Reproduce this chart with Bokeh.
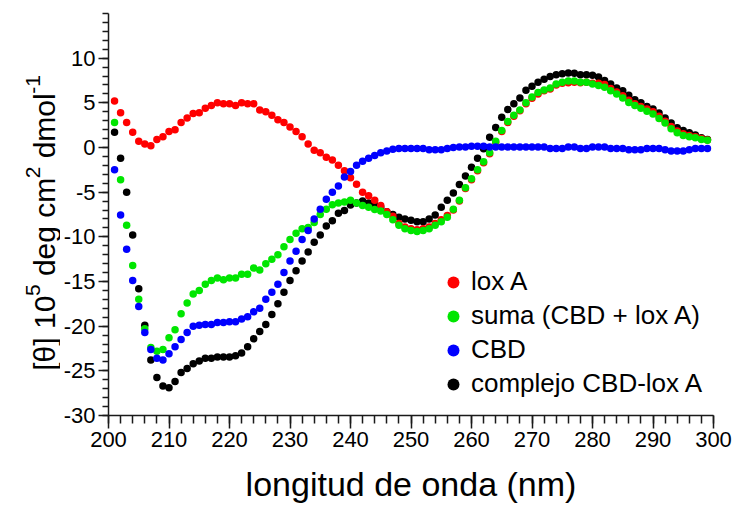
import math

from bokeh.plotting import figure
from bokeh.layouts import row
from bokeh.models import Legend, LegendItem, FixedTicker, ColumnDataSource, Range1d
from bokeh.core.properties import value
from bokeh.embed import file_html
from bokeh.resources import INLINE

# CD spectra, ellipticity in units of 10^5 deg cm^2 dmol^-1, one point per nm
wavelength = list(range(201, 300))

lox_a = [
    5.2, 3.9, 2.8, 1.7, 0.7, 0.4, 0.2, 0.9, 1.2, 1.8,
    2.0, 2.8, 3.3, 3.8, 3.9, 4.4, 4.7, 5.0, 4.9, 4.9,
    4.7, 5.0, 4.9, 4.9, 4.2, 4.0, 3.6, 3.1, 2.8, 2.3,
    1.8, 1.2, 0.4, -0.3, -0.6, -1.1, -1.4, -2.0, -2.6, -3.4,
    -4.1, -5.0, -5.4, -5.9, -6.5, -7.2, -7.7, -8.5, -8.9, -9.1,
    -9.2, -9.1, -8.9, -8.5, -8.1, -7.6, -7.0, -6.0, -4.6, -3.6,
    -2.6, -1.7, -0.7, 0.6, 1.8, 2.8, 3.5, 4.1, 4.9, 5.5,
    6.0, 6.35, 6.55, 7.0, 7.2, 7.25, 7.3, 7.25, 7.3, 7.2,
    7.2, 7.05, 6.6, 6.2, 5.8, 5.3, 4.9, 4.6, 4.3, 4.0,
    3.5, 2.95, 2.35, 1.85, 1.55, 1.35, 1.2, 1.0, 0.85,
]

suma = [
    2.8, -3.6, -8.7, -13.2, -17.0, -20.3, -22.4, -22.8, -22.6, -21.3,
    -20.4, -18.6, -17.4, -16.4, -16.0, -15.3, -14.9, -14.6, -14.8, -14.6,
    -14.6, -14.2, -14.2, -13.5, -13.7, -13.0, -12.5, -12.0, -11.1, -10.3,
    -9.6, -9.1, -8.95, -8.4, -7.5, -6.9, -6.4, -6.2, -6.1, -5.9,
    -6.2, -6.5, -6.7, -6.95, -7.1, -7.5, -8.1, -8.7, -9.1, -9.3,
    -9.4, -9.3, -9.1, -8.7, -8.3, -7.8, -6.9, -5.9, -4.5, -3.5,
    -2.5, -1.6, -0.6, 0.7, 1.9, 2.9, 3.6, 4.2, 5.0, 5.65,
    6.15, 6.45, 6.65, 7.1, 7.3, 7.45, 7.45, 7.3, 7.3, 7.1,
    6.95, 6.75, 6.35, 6.0, 5.55, 5.05, 4.7, 4.4, 4.05, 3.75,
    3.25, 2.75, 2.1, 1.65, 1.35, 1.2, 1.1, 0.9, 0.8,
]

cbd = [
    -2.5, -7.55, -11.4, -14.9, -17.8, -20.7, -22.6, -23.6, -23.8, -23.1,
    -22.3, -21.5, -20.7, -20.0, -19.9, -19.8, -19.8, -19.6, -19.6, -19.5,
    -19.5, -19.2, -18.95, -18.4, -18.0, -17.0, -16.2, -15.3, -14.0, -12.7,
    -11.6, -10.3, -9.3, -8.0, -6.9, -5.8, -5.0, -4.3, -3.3, -2.7,
    -2.0, -1.55, -1.2, -0.9, -0.6, -0.4, -0.2, -0.1, -0.1, -0.1,
    -0.1, -0.1, -0.25, -0.25, -0.25, -0.1, 0.0, 0.05, 0.05, 0.15,
    0.15, 0.15, 0.05, 0.05, 0.05, 0.05, 0.05, 0.05, 0.05, 0.05,
    0.05, 0.05, -0.1, -0.1, -0.1, 0.05, 0.05, -0.1, -0.1, 0.05,
    0.05, 0.05, -0.1, -0.1, -0.1, -0.25, -0.25, -0.25, -0.1, -0.1,
    -0.1, -0.25, -0.4, -0.4, -0.4, -0.25, -0.1, -0.1, -0.1,
]

complejo = [
    1.7, -1.2, -5.0, -9.8, -15.8, -19.9, -23.8, -25.75, -26.7, -26.9,
    -26.2, -25.2, -24.75, -24.2, -23.9, -23.6, -23.6, -23.45, -23.45, -23.45,
    -23.3, -23.0, -22.3, -21.4, -20.6, -19.8, -18.7, -17.5, -16.2, -14.9,
    -13.8, -12.7, -11.7, -10.6, -9.8, -8.8, -8.2, -7.35, -7.05, -6.45,
    -6.2, -6.0, -6.2, -6.4, -6.7, -7.2, -7.5, -7.8, -8.0, -8.15,
    -8.3, -8.3, -8.0, -7.55, -6.7, -5.9, -5.1, -4.15, -3.2, -2.2,
    -1.2, -0.15, 1.15, 2.25, 3.4, 4.25, 4.9, 5.55, 6.4, 6.85,
    7.3, 7.65, 7.95, 8.15, 8.25, 8.35, 8.3, 8.15, 8.15, 8.1,
    7.9, 7.5, 7.1, 6.65, 6.35, 5.85, 5.35, 5.0, 4.6, 4.3,
    3.85, 3.3, 2.75, 2.2, 1.9, 1.65, 1.4, 1.1, 0.9,
]

x_major = list(range(200, 301, 10))
x_minor = list(range(200, 301, 2))
y_major = list(range(-30, 11, 5))
y_minor = list(range(-30, 16))

FONT = "Liberation Sans"
AXIS_COLOR = "#1a1a1a"
TITLE_W = 60          # strip holding the rotated y title
TOTAL_W, TOTAL_H = 735, 505
TOP, BOTTOM = 13, 88  # borders above / below the plotting frame

p = figure(
    width=TOTAL_W - TITLE_W, height=TOTAL_H,
    x_range=(200, 300), y_range=(-30, 15),
    output_backend="svg", toolbar_location=None,
    min_border_left=107 - TITLE_W, min_border_right=22,
    min_border_top=TOP, min_border_bottom=BOTTOM,
)
p.outline_line_color = None
p.xgrid.visible = False
p.ygrid.visible = False
p.background_fill_color = "white"
p.border_fill_color = "white"

# axes
p.xaxis.ticker = FixedTicker(ticks=x_major, minor_ticks=x_minor)
p.yaxis.ticker = FixedTicker(ticks=y_major, minor_ticks=y_minor)
p.yaxis.major_label_overrides = {v: str(v) for v in y_major}
for ax in (p.xaxis[0], p.yaxis[0]):
    ax.axis_line_color = AXIS_COLOR
    ax.axis_line_width = 1.5
    ax.major_tick_line_color = AXIS_COLOR
    ax.major_tick_line_width = 1.5
    ax.minor_tick_line_color = AXIS_COLOR
    ax.minor_tick_line_width = 1.5
    ax.major_tick_in = 0
    ax.minor_tick_in = 0
    ax.major_label_text_font = FONT
    ax.major_label_text_font_size = "22px"
    ax.major_label_text_color = "black"

p.xaxis.major_tick_out = 13
p.xaxis.minor_tick_out = 8
p.xaxis.major_label_standoff = 3
p.xaxis.axis_label = "longitud de onda (nm)"
p.xaxis.axis_label_text_font = FONT
p.xaxis.axis_label_text_font_style = "normal"
p.xaxis.axis_label_text_font_size = "34px"
p.xaxis.axis_label_text_color = "black"
p.xaxis.axis_label_standoff = 15

p.yaxis.major_tick_out = 10
p.yaxis.minor_tick_out = 6
p.yaxis.major_label_standoff = 3

# spectra (drawn bottom to top)
r_complejo = p.scatter(wavelength, complejo, size=7.5, fill_color="black", line_color=None)
r_lox = p.scatter(wavelength, lox_a, size=7.5, fill_color="#ff0000", line_color=None)
r_suma = p.scatter(wavelength, suma, size=7.5, fill_color="#00e600", line_color=None)
r_cbd = p.scatter(wavelength, cbd, size=7.5, fill_color="#0000ff", line_color=None)

legend = Legend(
    items=[
        LegendItem(label="lox A", renderers=[r_lox]),
        LegendItem(label="suma (CBD + lox A)", renderers=[r_suma]),
        LegendItem(label="CBD", renderers=[r_cbd]),
        LegendItem(label="complejo CBD-lox A", renderers=[r_complejo]),
    ],
    location=(330, 16),
    orientation="vertical",
    background_fill_alpha=0,
    border_line_color=None,
    padding=0, margin=0, spacing=3,
    glyph_width=30, glyph_height=30,
    label_standoff=3,
    label_text_font=FONT,
    label_text_font_size="26px",
    label_text_color="black",
    label_text_baseline="middle",
)
p.add_layout(legend)

# rotated y title with raised exponents, laid out piece by piece;
# word gaps are advanced explicitly since SVG drops edge whitespace
ADVANCE = {"[": 0.278, "θ": 0.556, "]": 0.278, " ": 0.278, "1": 0.556, "0": 0.556,
           "5": 0.556, "d": 0.556, "e": 0.556, "g": 0.556, "c": 0.5, "m": 0.833,
           "2": 0.556, "o": 0.556, "l": 0.222, "-": 0.333}
title_parts = [("[θ] 10", False), ("5", True), (" ", False), ("deg cm", False),
               ("2", True), (" ", False), ("dmol", False), ("-1", True)]
MAIN_SIZE = 30
SUP_SIZE = 21
SUP_RAISE = 12
BASELINE_X = 44
START_Y = 372         # page pixel row where the title begins

tx, ty, ttext, tsize = [], [], [], []
cursor = START_Y
for text, sup in title_parts:
    size = SUP_SIZE if sup else MAIN_SIZE
    if text.strip():
        tx.append(BASELINE_X - (SUP_RAISE if sup else 0))
        ty.append(cursor)
        ttext.append(text)
        tsize.append(f"{size}px")
    cursor -= sum(ADVANCE.get(ch, 0.556) for ch in text) * size

title_src = ColumnDataSource(dict(x=tx, y=ty, text=ttext, size=tsize))

# the strip's frame lines up with the main frame, so its y range maps page rows
t = figure(
    width=TITLE_W, height=TOTAL_H,
    x_range=Range1d(0, TITLE_W), y_range=Range1d(TOTAL_H - BOTTOM, TOP),
    output_backend="svg", toolbar_location=None,
    x_axis_type=None, y_axis_type=None,
    min_border_left=0, min_border_right=0,
    min_border_top=TOP, min_border_bottom=BOTTOM,
)
t.outline_line_color = None
t.xgrid.visible = False
t.ygrid.visible = False
t.background_fill_color = "white"
t.border_fill_color = "white"
t.text(x="x", y="y", text="text", source=title_src, angle=math.pi / 2,
       text_font=value(FONT), text_font_size="size", text_color="black",
       text_align="left", text_baseline="alphabetic")

layout = row(t, p, spacing=0)
open("out.html", "w").write(file_html(layout, INLINE))
